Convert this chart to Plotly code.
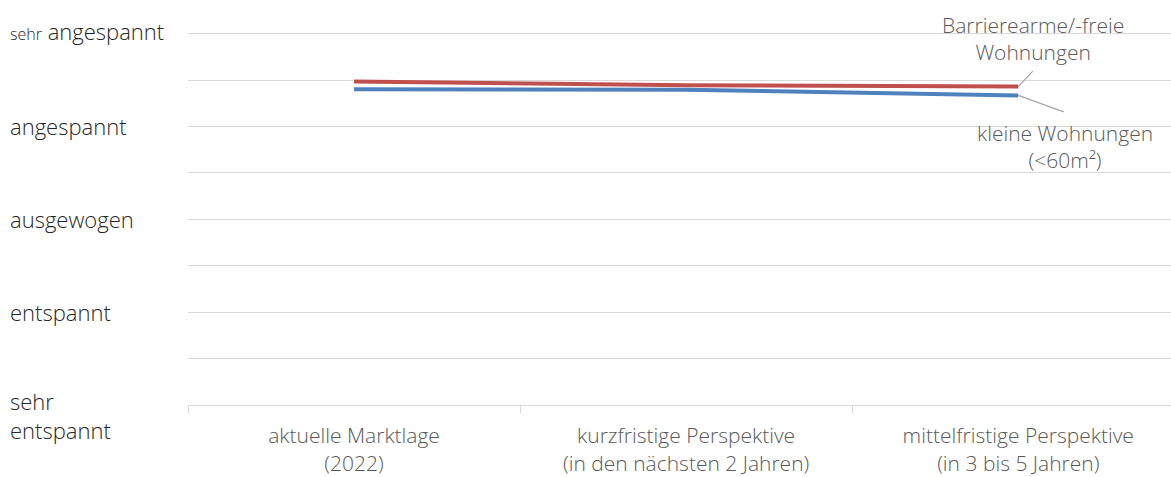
import plotly.graph_objects as go

categories = ["aktuelle Marktlage<br>(2022)",
              "kurzfristige Perspektive<br>(in den nächsten 2 Jahren)",
              "mittelfristige Perspektive<br>(in 3 bis 5 Jahren)"]
barrierearm = [4.485, 4.445, 4.43]
klein = [4.40, 4.395, 4.335]
series_names = ["Barrierearme/-freie<br>Wohnungen", "kleine Wohnungen<br>(<60m²)"]
y_levels = [5, 4, 3, 2, 1]
y_labels = ["<span style='font-size:16px'>sehr</span> angespannt", "angespannt",
            "ausgewogen", "entspannt", "sehr<br>entspannt"]

FONT = "Open Sans"
FS = 21
FSY = 22
RED = "#C0504D"
BLUE = "#4F81BD"
GRID = "#D9D9D9"

fig = go.Figure()
fig.add_trace(go.Scatter(x=categories, y=barrierearm, mode="lines",
                         line=dict(color=RED, width=4), name="Barrierearme/-freie Wohnungen"))
fig.add_trace(go.Scatter(x=categories, y=klein, mode="lines",
                         line=dict(color=BLUE, width=4), name="kleine Wohnungen"))

annotations = []
for lvl, lab in zip(y_levels, y_labels):
    annotations.append(dict(
        xref="x domain", yref="y", x=0, y=lvl, text=lab, showarrow=False,
        xanchor="left", yanchor="middle", align="left", xshift=-180,
        yshift=(-10 if lvl == 1 else (3 if lvl == 5 else 0)),
        font=dict(family=FONT, size=FSY, color="#262626", weight=300)))

# leader lines
annotations.append(dict(x=categories[2], y=barrierearm[2], xref="x", yref="y",
                        text="", showarrow=True, arrowhead=0,
                        arrowwidth=1.2, arrowcolor="#A6A6A6", ax=16, ay=-17, standoff=0))
annotations.append(dict(x=categories[2], y=klein[2], xref="x", yref="y",
                        text="", showarrow=True, arrowhead=0,
                        arrowwidth=1.2, arrowcolor="#A6A6A6", ax=47, ay=17, standoff=0))
# series labels
annotations.append(dict(x=categories[2], y=barrierearm[2], xref="x", yref="y",
                        text=series_names[0], showarrow=False, xshift=15, yshift=48,
                        font=dict(family=FONT, size=FS, color="#595959", weight=300), align="center"))
annotations.append(dict(x=categories[2], y=klein[2], xref="x", yref="y",
                        text=series_names[1], showarrow=False, xshift=47, yshift=-51,
                        font=dict(family=FONT, size=FS, color="#595959", weight=300), align="center"))

fig.update_layout(
    width=1171, height=477,
    margin=dict(l=188, r=0, t=29, b=72, autoexpand=False),
    paper_bgcolor="white", plot_bgcolor="white",
    showlegend=False,
    font=dict(family=FONT, size=FS, color="#595959"),
    annotations=annotations,
    xaxis=dict(type="category", range=[-0.5, 2.46], showgrid=False, automargin=False,
               showline=True, linecolor=GRID, linewidth=1,
               ticks="outside", tickson="boundaries", ticklen=7, tickcolor=GRID,
               ticklabelstandoff=12,
               tickfont=dict(family=FONT, size=FS, color="#595959", weight=300), zeroline=False),
    yaxis=dict(range=[1, 5.05], dtick=0.5, tick0=1, showgrid=True, gridcolor=GRID,
               automargin=False,
               gridwidth=1, showticklabels=False, zeroline=False, showline=False),
)

fig.write_html("out.html")
